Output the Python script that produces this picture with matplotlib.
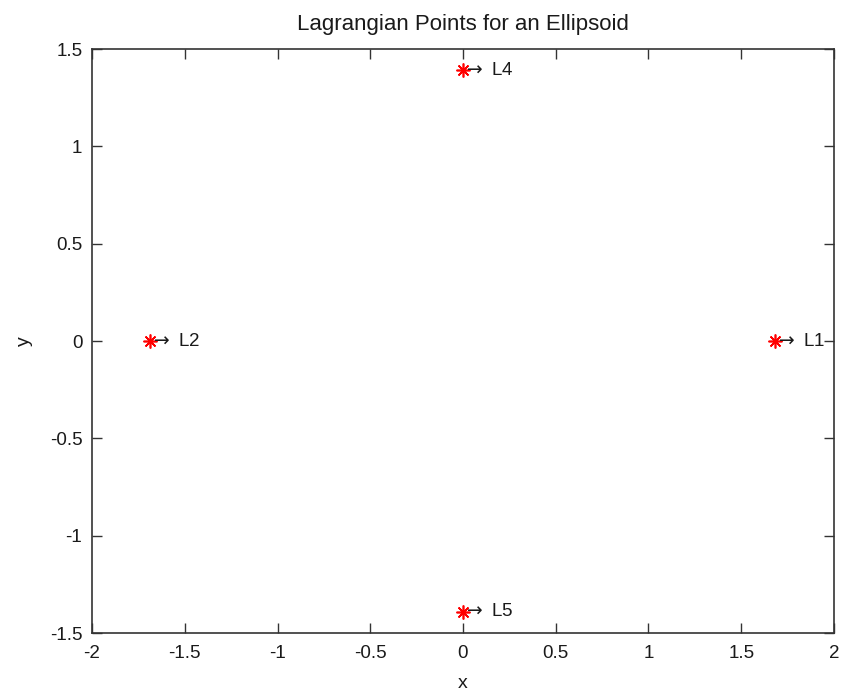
import matplotlib
matplotlib.use("Agg")
import matplotlib.pyplot as plt
import numpy as np

# Lagrangian point positions
names = ["L1", "L2", "L4", "L5"]
xs = [1.68, -1.69, 0.0, 0.0]
ys = [0.0, 0.0, 1.39, -1.39]

x_ticks = [-2, -1.5, -1, -0.5, 0, 0.5, 1, 1.5, 2]
y_ticks = [-1.5, -1, -0.5, 0, 0.5, 1, 1.5]

plt.rcParams['font.family'] = ['Liberation Sans', 'DejaVu Sans']
plt.rcParams['mathtext.fontset'] = 'dejavusans'

fig = plt.figure(figsize=(8.45, 6.97), dpi=100)
ax = fig.add_axes([92 / 845, 1 - 633 / 697, 742 / 845, 584 / 697])

# MATLAB-like '*' marker: 8-armed asterisk
ax.plot(xs, ys, linestyle='none', marker=(8, 2, 0), color='red',
        markersize=10, markeredgewidth=1.2)
for name, x, y in zip(names, xs, ys):
    ax.text(x, y, r"$\rightarrow$" + " " + name, ha='left', va='center',
            fontsize=13.5, color='#1a1a1a')

ax.set_xlim(-2, 2)
ax.set_ylim(-1.5, 1.5)
ax.set_xticks(x_ticks)
ax.set_xticklabels([f"{t:g}" for t in x_ticks])
ax.set_yticks(y_ticks)
ax.set_yticklabels([f"{t:g}" for t in y_ticks])
ax.tick_params(direction='in', length=7, width=1, labelsize=13.5,
               top=True, right=True, colors='#333333', labelcolor='#1a1a1a')
ax.tick_params(axis='y', pad=7)
ax.tick_params(axis='x', pad=9)
for s in ax.spines.values():
    s.set_linewidth(1.2)
    s.set_color('#333333')

ax.set_title("Lagrangian Points for an Ellipsoid", fontsize=16, pad=14,
             color='#1a1a1a')
ax.set_xlabel("x", fontsize=14, labelpad=9, color='#1a1a1a')
ax.set_ylabel("y", fontsize=14, labelpad=12, color='#1a1a1a')

fig.savefig("out.png", dpi=100)
